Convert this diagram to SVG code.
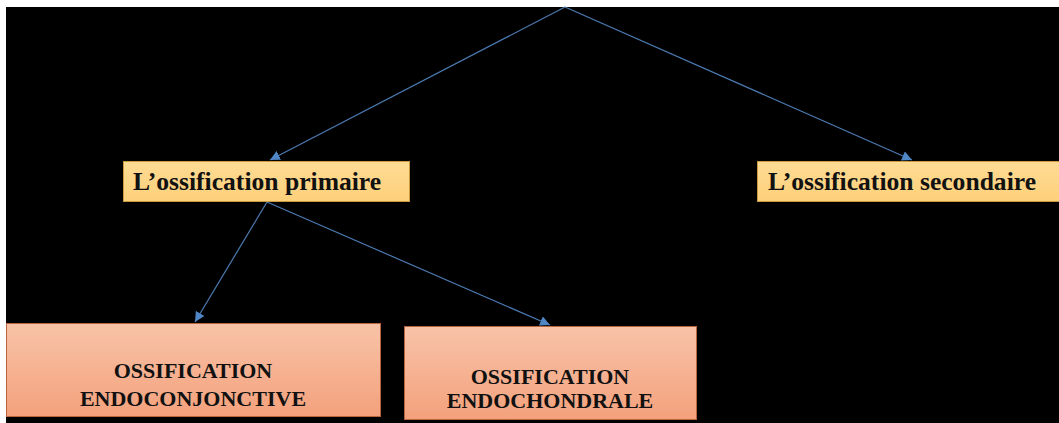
<svg xmlns="http://www.w3.org/2000/svg" width="1059" height="423" viewBox="0 0 1059 423">
<style>
.conn{stroke:#4a7ab0;stroke-width:1.2;fill:none}
.yel{fill:url(#gy);stroke:#c99a3e;stroke-width:1}
.ora{fill:url(#go);stroke:#b8643c;stroke-width:1}
.t{font-family:"Liberation Serif","Times New Roman",serif;font-weight:bold;fill:#111}
.t1{font-size:25.6px}
.t2{font-size:22px;text-anchor:middle}
</style>
<defs>
<linearGradient id="gy" x1="0" y1="0" x2="0" y2="1"><stop offset="0" stop-color="#ffdb94"/><stop offset="1" stop-color="#fdd07a"/></linearGradient>
<linearGradient id="go" x1="0" y1="0" x2="0" y2="1"><stop offset="0" stop-color="#f8c3a8"/><stop offset="1" stop-color="#f4a17c"/></linearGradient>
<marker id="ah" markerUnits="userSpaceOnUse" markerWidth="12" markerHeight="10" refX="10" refY="5" orient="auto"><path d="M0,0 L10,5 L0,10 Z" fill="#4f86c6"/></marker>
</defs>
<rect width="1059" height="423" fill="#fff"/>
<rect x="6" y="7" width="1053" height="416" fill="#000"/>
<g id="connectors">
<line class="conn" x1="565" y1="7" x2="270" y2="160" marker-end="url(#ah)"/>
<line class="conn" x1="565" y1="7" x2="912" y2="160" marker-end="url(#ah)"/>
<line class="conn" x1="267" y1="202" x2="195" y2="322" marker-end="url(#ah)"/>
<line class="conn" x1="267" y1="202" x2="550" y2="325" marker-end="url(#ah)"/>
</g>
<g id="primaire">
<rect class="yel" x="123.5" y="161.5" width="286" height="40"/>
<text class="t t1" x="133" y="190">L’ossification primaire</text>
</g>
<g id="secondaire">
<rect class="yel" x="757.5" y="161.5" width="305" height="40"/>
<text class="t t1" x="768" y="190">L’ossification secondaire</text>
</g>
<g id="endoconjonctive">
<rect class="ora" x="6.5" y="323.5" width="374" height="93"/>
<text class="t t2" x="193" y="378">OSSIFICATION</text>
<text class="t t2" x="193" y="406">ENDOCONJONCTIVE</text>
</g>
<g id="endochondrale">
<rect class="ora" x="404.5" y="326.5" width="292" height="93"/>
<text class="t t2" x="550" y="384">OSSIFICATION</text>
<text class="t t2" x="550" y="408">ENDOCHONDRALE</text>
</g>
</svg>
